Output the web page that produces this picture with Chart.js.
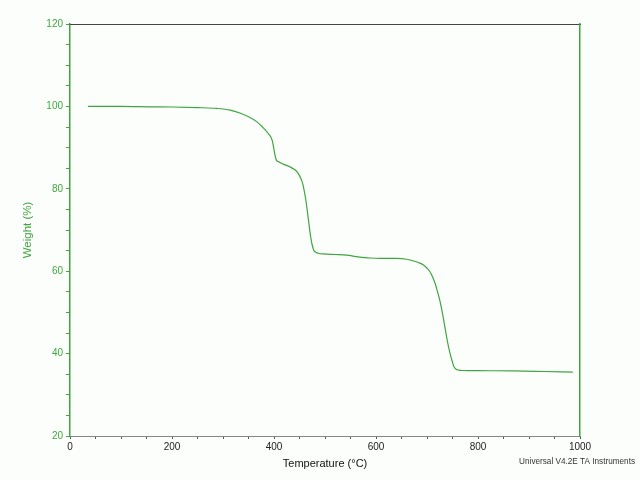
<!DOCTYPE html>
<html lang="en">
<head>
    <meta charset="UTF-8">
    <title>TGA curve</title>
    <style>
        body { margin: 0; background: #fcfefc; }
        #chartBox { width: 640px; height: 480px; }
    </style>
</head>
<body>
    <div id="chartBox">
        <canvas id="tgaChart" width="640" height="480"></canvas>
    </div>

    <script src="https://cdn.jsdelivr.net/npm/chart.js"></script>
    <script>
        // values
        var temperature = [35, 100, 157, 200, 250, 288, 314, 333, 353, 366, 379, 385, 390, 394, 397, 399, 401, 403, 405, 408,
            413, 418, 430, 441, 446, 450, 454, 457, 460, 463, 466, 469, 472, 475, 478, 482, 488, 497, 520, 542,
            565, 588, 610, 640, 660, 673, 683, 693, 703, 708, 712, 716, 720, 725, 730, 735, 740, 745, 750, 753,
            757, 762, 770, 800, 869, 930, 986];
        var weight = [100.0, 100.0, 99.9, 99.85, 99.7, 99.5, 99.1, 98.4, 97.3, 96.3, 94.8, 94.0, 93.2, 92.5, 91.5, 90.2, 88.8, 87.6, 86.9, 86.6,
            86.3, 86.0, 85.4, 84.6, 84.0, 83.2, 82.1, 80.9, 79.0, 76.8, 74.0, 71.0, 68.3, 66.3, 65.1, 64.6, 64.3, 64.2, 64.05, 63.9,
            63.5, 63.2, 63.1, 63.1, 62.9, 62.5, 62.1, 61.5, 60.3, 59.4, 58.3, 57.0, 55.3, 53.0, 50.0, 46.5, 43.0, 40.1, 37.9, 36.8,
            36.2, 36.0, 35.9, 35.85, 35.8, 35.65, 35.5];

        var xMajor = [0, 200, 400, 600, 800, 1000];
        var yMajor = [20, 40, 60, 80, 100, 120];

        var points = temperature.map(function (t, i) { return { x: t, y: weight[i] }; });

        var green = '#3fa63f';

        var footnote = {
            id: 'footnote',
            afterDraw: function (chart) {
                var ctx = chart.ctx;
                ctx.save();
                ctx.font = '8.2px "Liberation Sans", Arial, sans-serif';
                ctx.fillStyle = '#333';
                ctx.textAlign = 'right';
                ctx.textBaseline = 'middle';
                ctx.fillText('Universal V4.2E TA Instruments', 635, 462);
                ctx.restore();
            }
        };

        var tgaChart = new Chart(document.getElementById('tgaChart').getContext('2d'), {
            type: 'scatter',
            data: {
                datasets: [{
                    data: points,
                    showLine: true,
                    borderColor: green,
                    borderWidth: 1.2,
                    pointRadius: 0,
                    cubicInterpolationMode: 'monotone'
                }]
            },
            options: {
                responsive: false,
                animation: false,
                layout: {
                    padding: { left: 0, right: 60, top: 24, bottom: 0 }
                },
                font: { family: '"Liberation Sans", Arial, sans-serif' },
                scales: {
                    x: {
                        type: 'linear',
                        position: 'bottom',
                        min: 0,
                        max: 1000,
                        afterFit: function (scale) { scale.height = 44; },
                        ticks: {
                            stepSize: 50,
                            autoSkip: false,
                            maxRotation: 0,
                            padding: 2,
                            color: '#222',
                            font: { size: 10 },
                            callback: function (v) { return xMajor.indexOf(v) >= 0 ? String(v) : ''; }
                        },
                        grid: {
                            drawOnChartArea: false,
                            tickLength: 3,
                            color: '#555'
                        },
                        border: { color: '#888', width: 1 },
                        title: {
                            display: true,
                            text: 'Temperature (°C)',
                            color: '#111',
                            font: { size: 11 },
                            padding: { top: 0, bottom: 9 }
                        }
                    },
                    y: {
                        type: 'linear',
                        position: 'left',
                        min: 20,
                        max: 120,
                        afterFit: function (scale) { scale.width = 70; },
                        ticks: {
                            stepSize: 5,
                            autoSkip: false,
                            padding: 3,
                            color: green,
                            font: { size: 10 },
                            callback: function (v) { return yMajor.indexOf(v) >= 0 ? String(v) : ''; }
                        },
                        grid: {
                            drawOnChartArea: false,
                            tickLength: 4,
                            color: green
                        },
                        border: { color: green, width: 1.5 },
                        title: {
                            display: true,
                            text: 'Weight (%)',
                            color: green,
                            font: { size: 11.5 },
                            padding: { top: 21, bottom: 0 }
                        }
                    },
                    xTop: {
                        type: 'linear',
                        position: 'top',
                        min: 0,
                        max: 1000,
                        afterFit: function (scale) { scale.height = 0; },
                        ticks: { display: false },
                        grid: { display: false },
                        border: { color: '#444', width: 1 }
                    },
                    yRight: {
                        type: 'linear',
                        position: 'right',
                        min: 20,
                        max: 120,
                        afterFit: function (scale) { scale.width = 0; },
                        ticks: { display: false },
                        grid: { display: false },
                        border: { color: green, width: 1.5 }
                    }
                },
                plugins: {
                    legend: { display: false },
                    tooltip: { enabled: false }
                }
            },
            plugins: [footnote]
        });
    </script>
</body>
</html>
